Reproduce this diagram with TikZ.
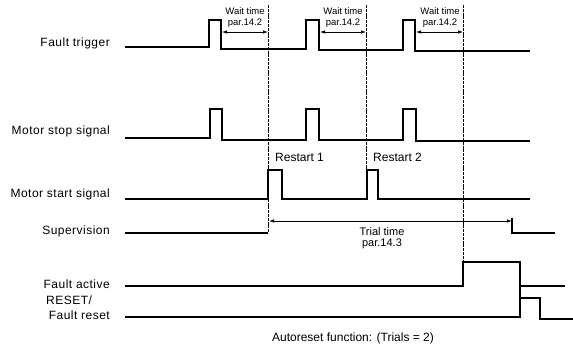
\documentclass[tikz,border=0pt]{standalone}
\usepackage{fontspec}
\setmainfont{Liberation Sans}
\newfontfamily\lblfont[LetterSpace=4]{Liberation Sans}
\usetikzlibrary{arrows.meta}
\begin{document}
\begin{tikzpicture}[x=1pt,y=-1pt,
  sig/.style={line width=1.1pt, line join=miter},
  guide/.style={line width=0.8pt, dash pattern=on 3pt off 0.8pt},
  dim/.style={line width=0.7pt, {Latex[length=5pt,width=3.5pt]}-{Latex[length=5pt,width=3.5pt]}},
  lbl/.style={font=\lblfont\fontsize{12}{14}\selectfont, anchor=base east, inner sep=0pt},
  small/.style={font=\fontsize{9.5}{11}\selectfont, align=center, inner sep=0pt},
  note/.style={font=\fontsize{12}{14}\selectfont, inner sep=0pt}]
\useasboundingbox (0,0) rectangle (573,345);

% signal labels
\node[lbl] (ft) at (110,47) {Fault trigger};
\node[lbl] (ms) at (110,134) {Motor stop signal};
\node[lbl] (mst) at (110,197) {Motor start signal};
\node[lbl] (sup) at (110,234) {Supervision};
\node[lbl] (fa) at (110,288) {Fault active};
\node[lbl, anchor=base west] (rs) at (46,304) {RESET/};
\node[lbl] (fr) at (110,319) {Fault reset};

% guide lines
\coordinate (g1t) at (268,5);  \coordinate (g1b) at (268,233);
\coordinate (g2t) at (366,5);  \coordinate (g2b) at (366,199);
\coordinate (g3t) at (463,5);  \coordinate (g3b) at (463,262);
\draw[guide] (g1t) -- (g1b);
\draw[guide] (g2t) -- (g2b);
\draw[guide] (g3t) -- (g3b);

% Fault trigger
\draw[sig] (125,47) -- (209,47) -- (209,20) -- (221,20) -- (221,49)
  -- (306,49) -- (306,20) -- (319,20) -- (319,50)
  -- (403,50) -- (403,20) -- (415,20) -- (415,51) -- (530,51);

% Wait time arrows and texts
\coordinate (wa1) at (222,32); \coordinate (wb1) at (268,32);
\coordinate (wa2) at (320,32); \coordinate (wb2) at (366,32);
\coordinate (wa3) at (416,32); \coordinate (wb3) at (463,32);
\draw[dim] (wa1) -- (wb1);
\draw[dim] (wa2) -- (wb2);
\draw[dim] (wa3) -- (wb3);
\node[small] (wt1) at (245,17.5) {Wait time\\par.14.2};
\node[small] (wt2) at (343,17.5) {Wait time\\par.14.2};
\node[small] (wt3) at (440,17.5) {Wait time\\par.14.2};

% Motor stop signal
\draw[sig] (125,138) -- (210,138) -- (210,109) -- (222,109) -- (222,140)
  -- (306,140) -- (306,109) -- (319,109) -- (319,140)
  -- (403,140) -- (403,109) -- (416,109) -- (416,141) -- (530,141);

% Motor start signal
\draw[sig] (125,199) -- (268,199) -- (268,170) -- (282,170) -- (282,199)
  -- (367,199) -- (367,170) -- (378,170) -- (378,199) -- (530,199);
\node[note, anchor=base west] (r1) at (275,161) {Restart 1};
\node[note, anchor=base west] (r2) at (373,161) {Restart 2};

% Supervision
\draw[sig] (125,233) -- (268,233);
\coordinate (ta) at (269,221); \coordinate (tb) at (512,221);
\draw[dim] (ta) -- (tb);
\draw[sig] (512,218) -- (512,233) -- (555,233);
\node[font=\fontsize{11}{10.5}\selectfont, align=center, inner sep=0pt] (tt) at (382,238) {Trial time\\par.14.3};

% Fault active
\draw[sig] (125,286) -- (463,286) -- (463,262) -- (520,262) -- (520,286) -- (565,286);

% Reset / fault reset
\draw[sig] (125,317) -- (520,317) -- (520,286);
\draw[sig] (520,298) -- (540,298) -- (540,319) -- (573,319);

\node[note] (ar) at (353,338) {Autoreset function: (Trials = 2)};
\end{tikzpicture}
\end{document}
